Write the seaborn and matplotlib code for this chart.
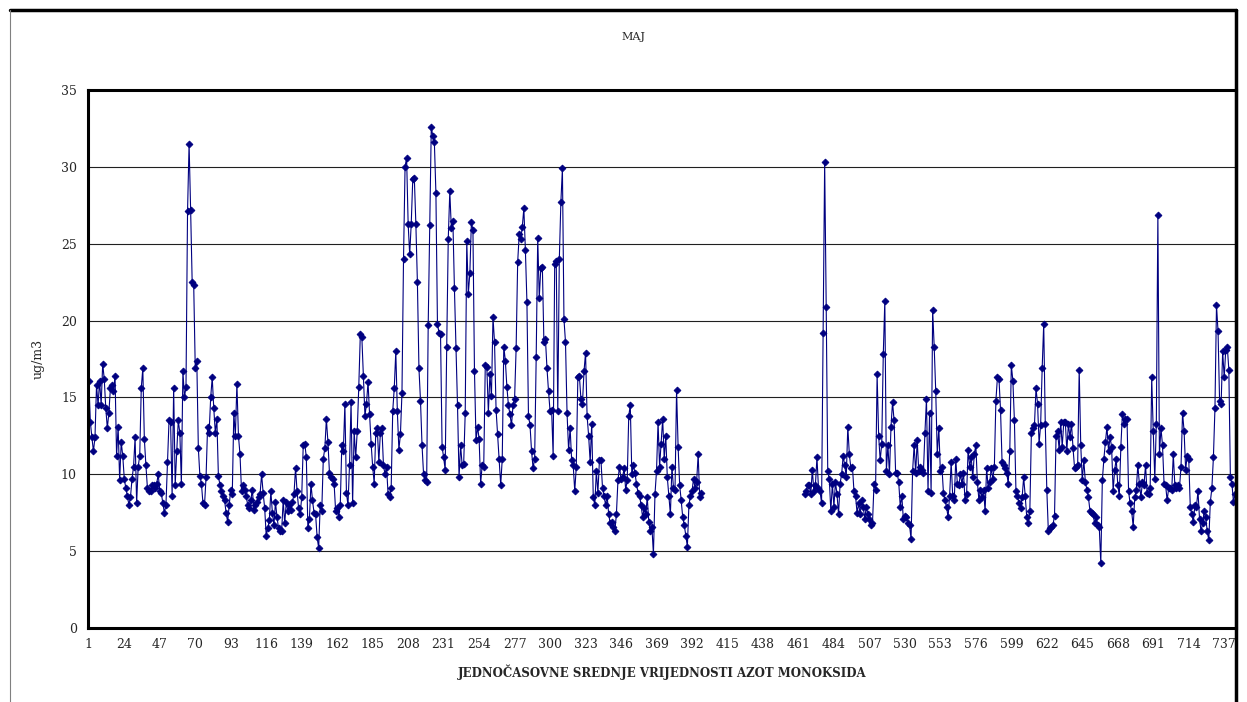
import numpy as np
import pandas as pd
import matplotlib
matplotlib.use('Agg')
import matplotlib.pyplot as plt
from matplotlib.lines import Line2D
import seaborn as sns

# hourly mean NO values (ug/m3) for May
# first block: hours 1-398
a1 = [16.1, 13.4, 12.4, 11.5, 12.4, 15.8, 14.5, 16.1, 14.5, 17.2, 16.2, 14.3, 13.0, 14.0, 15.6,
      15.8, 15.4, 16.4, 11.2, 13.1, 9.6, 12.1, 11.2, 9.7, 9.1, 8.6, 8.0, 8.5, 9.7, 10.5,
      12.4, 8.1, 10.5, 11.2, 15.6, 16.9, 12.3, 10.6, 9.1, 8.9, 8.9, 9.3, 9.3, 9.1, 9.4,
      10.0, 8.9, 8.8, 8.1, 7.5, 8.0, 10.8, 13.5, 13.4, 8.6, 15.6, 9.3, 11.5, 13.5]
a2 = [12.7, 9.4, 16.7, 15.0, 15.7, 27.1, 31.5, 27.2, 22.5, 22.3, 16.9, 17.4, 11.7, 9.9, 9.4,
      8.1, 8.0, 9.8, 13.1, 12.7, 15.0, 16.3, 14.3, 12.7, 13.6, 9.9, 9.3, 8.9, 8.6, 8.3,
      7.5, 6.9, 8.0, 9.0, 8.7, 14.0, 12.5, 15.9, 12.5, 11.3, 8.9, 9.3, 9.0, 8.6, 8.0,
      7.8, 8.3, 9.0, 7.7, 8.0, 8.2, 8.5, 8.7, 10.0, 8.8, 7.8, 6.0, 6.5, 7.0]
a3 = [8.9, 7.5, 6.7, 8.2, 7.2, 6.5, 6.3, 6.3, 8.3, 6.8, 8.2, 7.6, 8.0, 7.7, 8.2,
      8.7, 10.4, 8.9, 7.8, 7.4, 8.5, 11.9, 12.0, 11.1, 6.5, 7.1, 9.4, 8.3, 7.5, 7.4,
      5.9, 5.2, 8.0, 7.6, 11.0, 11.7, 13.6, 12.1, 10.1, 9.8, 9.7, 9.4, 7.6, 7.8, 7.2,
      8.0, 11.9, 11.5, 14.6, 8.8, 8.0, 10.6, 14.7, 8.1, 12.8, 11.1, 12.8, 15.7]
a4 = [19.1, 18.9, 16.4, 13.8, 14.6, 16.0, 13.9, 12.0, 10.5, 9.4, 12.7, 13.0, 10.8, 12.7, 13.0,
      10.6, 10.0, 10.5, 8.7, 8.5, 9.1, 14.1, 15.6, 18.0, 14.1, 11.6, 12.6, 15.3, 24.0, 30.0,
      30.6, 26.3, 24.3, 26.3, 29.2, 29.3, 26.3, 22.5, 16.9, 14.8, 11.9, 10.0, 9.6, 9.5, 19.7,
      26.2, 32.6, 32.0, 31.6, 28.3, 19.8, 19.2, 19.1, 11.8, 11.1, 10.3, 18.3, 25.3, 28.4]
a5 = [26.0, 26.5, 22.1, 18.2, 14.5, 9.8, 11.9, 10.6, 10.7, 14.0, 25.2, 21.7, 23.1, 26.4, 25.9,
      16.7, 12.2, 13.1, 12.3, 9.4, 10.6, 10.5, 17.1, 17.0, 14.0, 16.5, 15.1, 20.2, 18.6, 14.2,
      12.6, 11.0, 9.3, 11.0, 18.3, 17.4, 15.7, 14.5, 13.9, 13.2, 14.5, 14.9, 18.2, 23.8, 25.6,
      25.3, 26.1, 27.3, 24.6, 21.2, 13.8, 13.2, 11.5, 10.4, 11.0, 17.6]
a6 = [25.4, 21.5, 23.4, 23.5, 18.6, 18.8, 16.9, 15.4, 14.1, 14.2, 11.2, 23.7, 23.9, 14.1, 24.0,
      27.7, 29.9, 20.1, 18.6, 14.0, 11.6, 13.0, 10.9, 10.6, 8.9, 10.5, 16.3, 16.4, 14.9, 14.6,
      16.7, 17.9, 13.8, 12.5, 10.8, 13.3, 8.5, 8.0, 10.2, 8.8, 10.9, 10.9, 9.1, 8.6, 8.0,
      8.6, 7.4, 6.8, 6.9, 6.6, 6.3, 7.4, 9.6, 10.5, 9.7, 9.8, 10.4, 9.0, 9.6, 13.8,
      14.5, 10.0]
a7 = [10.6, 10.1, 9.4, 8.8, 8.6, 8.0, 7.2, 7.8, 7.4, 8.5, 6.9, 6.3, 6.6, 4.8, 8.7,
      10.2, 13.4, 10.5, 12.0, 13.6, 11.0, 12.5, 9.8, 8.6, 7.4, 10.5, 9.1, 9.0, 15.5, 11.8,
      9.3, 8.3, 7.2, 6.7, 6.0, 5.3, 8.0, 8.6, 8.9, 9.7, 9.1, 9.5, 11.3, 8.5, 8.8]
# second block: hours 465-744 (no data before)
b1 = [8.7, 8.9, 9.3, 9.3, 8.7, 10.3, 8.9, 9.3, 11.1, 9.1, 8.9, 8.1, 19.2, 30.3, 20.9,
      10.2, 9.7, 7.6, 9.4, 7.9, 9.5, 8.7, 7.4, 9.4, 10.0, 11.2, 10.6, 9.8, 13.1, 11.3,
      10.4, 10.5, 8.9, 8.6, 7.5, 8.1, 7.4, 8.3, 7.9, 7.1, 7.9, 7.4, 7.1, 6.7, 6.8,
      9.4, 9.0, 16.5, 12.5, 10.9, 12.0, 17.8, 21.3, 10.2, 11.9]
b2 = [10.0, 13.1, 14.7, 13.5, 10.1, 10.1, 9.5, 7.9, 8.6, 7.1, 7.3, 7.2, 6.8, 6.7, 5.8,
      10.2, 11.9, 10.1, 12.2, 10.2, 10.5, 10.3, 10.1, 12.7, 14.9, 8.9, 14.0, 8.8, 20.7, 18.3,
      15.4, 11.3, 13.0, 10.2, 10.5, 8.8, 8.3, 7.9, 7.2, 8.6, 10.8, 8.6, 8.3, 11.0, 9.4,
      9.3, 10.0, 9.4, 10.1, 8.3, 8.7, 11.6, 10.5, 11.1, 9.8, 11.3, 11.9, 9.5, 8.3]
b3 = [9.0, 8.5, 9.0, 7.6, 10.4, 9.1, 9.5, 10.4, 9.7, 10.5, 14.8, 16.3, 16.2, 14.2, 10.8,
      10.6, 10.4, 10.1, 9.4, 11.5, 17.1, 16.1, 13.5, 8.9, 8.6, 8.1, 7.8, 8.5, 9.8, 8.6,
      7.2, 6.8, 7.6, 12.7, 13.0, 13.2, 15.6, 14.6, 12.0, 13.2, 16.9, 19.8, 13.3, 9.0, 6.3,
      6.5, 6.6, 6.7, 7.3, 12.5, 12.8, 11.6, 13.4, 11.8, 13.4, 13.4, 11.5]
b4 = [13.3, 12.4, 13.3, 11.7, 10.4, 10.5, 10.6, 16.8, 11.9, 9.6, 10.9, 9.5, 9.0, 8.5, 7.6,
      7.5, 7.4, 6.8, 7.2, 6.7, 6.6, 4.2, 9.6, 11.0, 12.1, 13.1, 11.5, 12.4, 11.8, 8.9,
      10.3, 11.0, 9.3, 8.6, 11.8, 13.9, 13.3, 13.6, 13.6, 8.9, 8.1, 7.6, 6.6, 8.5, 9.0,
      10.6, 9.4, 8.5, 9.5, 9.3, 10.6, 8.8, 8.7, 9.1, 16.3, 12.8, 9.7, 13.3, 26.9, 11.3,
      13.0, 11.9]
b5 = [9.4, 9.3, 8.3, 9.1, 9.1, 9.0, 11.3, 9.3, 9.1, 9.3, 9.1, 10.5, 14.0, 12.8, 10.3,
      11.2, 11.0, 7.9, 7.4, 6.9, 8.0, 7.9, 8.9, 7.1, 6.3, 6.8, 7.6, 7.2, 6.3, 5.7,
      8.2, 9.1, 11.1, 14.3, 21.0, 19.3, 14.8, 14.6, 18.0, 16.3, 18.1, 18.3, 16.8, 9.8, 9.4,
      8.2, 8.7]

n_hours = 744
restart_hour = 465
x_ticks = list(range(1, n_hours + 1, 23))
y_ticks = list(range(0, 36, 5))

block1 = a1 + a2 + a3 + a4 + a5 + a6 + a7
block2 = b1 + b2 + b3 + b4 + b5
df = pd.DataFrame({
    'hour': list(range(1, len(block1) + 1)) + list(range(restart_hour, restart_hour + len(block2))),
    'value': block1 + block2,
    'block': [1] * len(block1) + [2] * len(block2),
})

sns.set_style('white')
plt.rcParams['font.family'] = ['DejaVu Serif']

fig = plt.figure(figsize=(12.47, 7.02), dpi=100)
ax = fig.add_axes([0.0706, 0.1054, 0.9204, 0.7664])

navy = '#000080'
sns.lineplot(data=df, x='hour', y='value', units='block', estimator=None, ax=ax,
             color=navy, lw=0.8, marker='D', markersize=3.5, markeredgecolor=navy,
             markeredgewidth=0.6, legend=False)

ax.set_xlim(0.5, n_hours + 0.5)
ax.set_ylim(0, 35)
ax.set_xticks(x_ticks)
ax.set_xticklabels([str(t) for t in x_ticks], fontsize=9)
ax.set_xticks(range(1, n_hours + 1, 5), minor=True)
ax.set_yticks(y_ticks)
ax.set_yticklabels([str(t) for t in y_ticks], fontsize=9)
ax.tick_params(axis='x', which='major', direction='out', length=4, width=0.8, pad=3)
ax.tick_params(axis='x', which='minor', direction='out', length=3, width=0.6)
ax.tick_params(axis='y', direction='out', length=0, pad=8)
ax.yaxis.grid(True, color='#202020', lw=0.8)
ax.set_axisbelow(True)
for side in ['left', 'bottom', 'right', 'top']:
    ax.spines[side].set_color('black')
    ax.spines[side].set_linewidth(2.2)

ax.set_xlabel('JEDNOČASOVNE SREDNJE VRIJEDNOSTI AZOT MONOKSIDA', fontsize=8.5,
              fontweight='bold', labelpad=10)
ax.set_ylabel('ug/m3', fontsize=9, labelpad=12)
fig.text(0.508, 0.947, 'MAJ', ha='center', va='center', fontsize=8)

# outer chart frame; its right edge runs along the plot's right spine
right_edge = 0.0706 + 0.9204
fig.add_artist(Line2D([0.008, right_edge], [0.986, 0.986], color='black', lw=2.5,
                      transform=fig.transFigure))
fig.add_artist(Line2D([right_edge, right_edge], [0.0, 0.986], color='black', lw=2.5,
                      transform=fig.transFigure))
fig.add_artist(Line2D([0.008, 0.008], [0.0, 0.986], color='#808080', lw=0.8,
                      transform=fig.transFigure))

fig.savefig('out.png', dpi=100)
